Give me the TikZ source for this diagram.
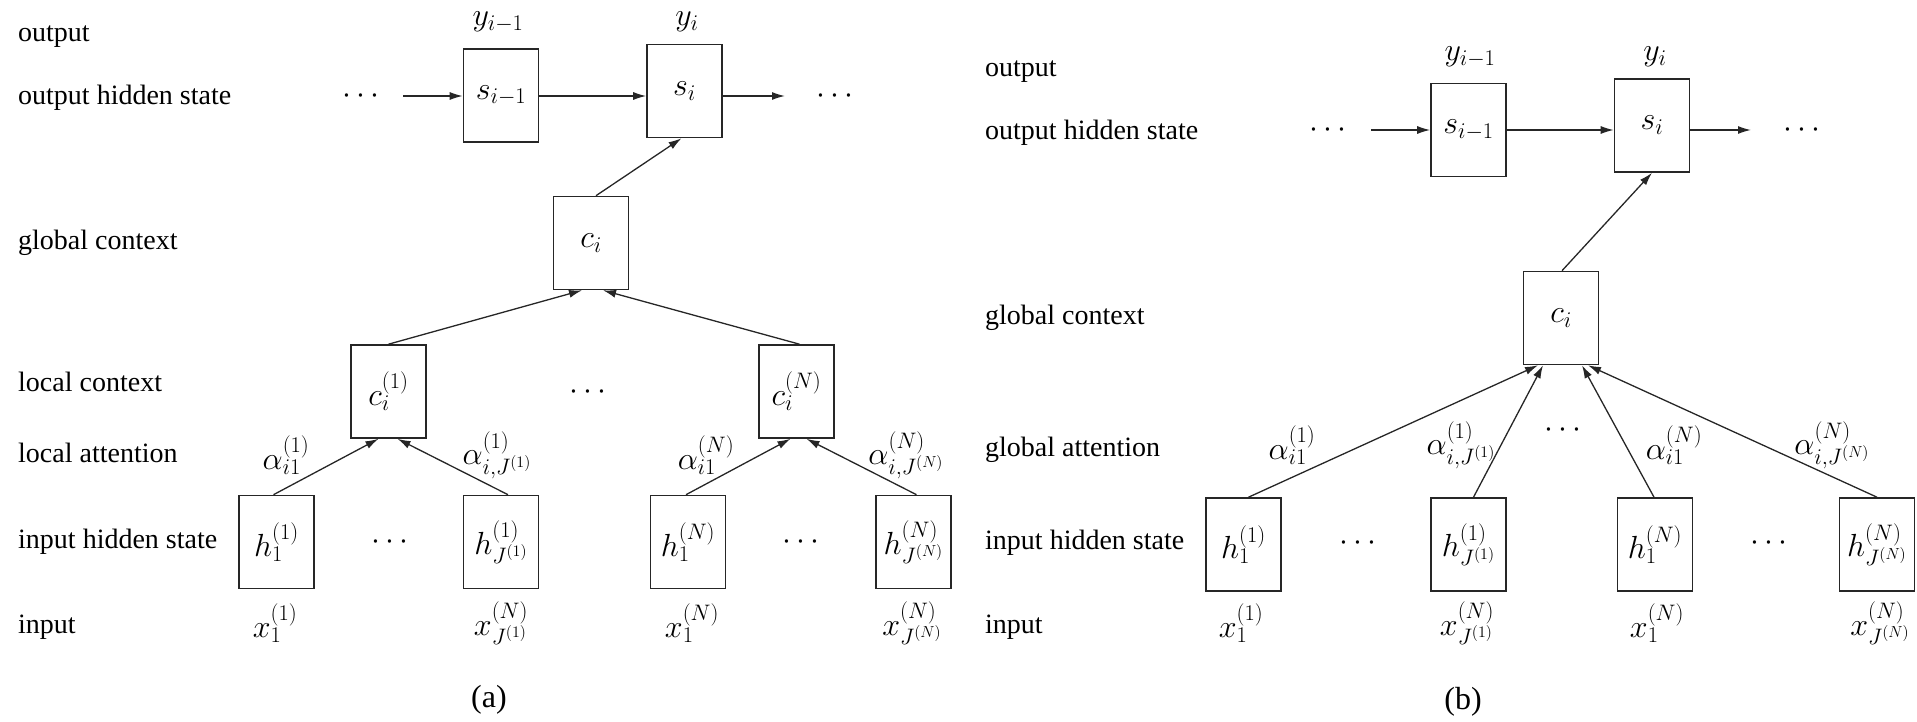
\RequirePackage{fix-cm}
\documentclass[tikz,border=0pt]{standalone}
\usepackage{fontspec}
\setmainfont{Liberation Serif}
\usetikzlibrary{arrows.meta,calc}
\begin{document}
\begin{tikzpicture}[x=1pt,y=-1pt,
  cell/.style={draw=black!85,line width=1.6pt,minimum width=75pt,minimum height=93pt,inner sep=0pt,font=\fontsize{32}{38}\selectfont},
  rowlab/.style={anchor=west,inner sep=0pt,font=\fontsize{28}{34}\selectfont},
  mlab/.style={inner sep=0pt,font=\fontsize{32}{38}\selectfont},
  caplab/.style={inner sep=0pt,font=\fontsize{32}{38}\selectfont},
  arr/.style={-{Latex[length=13pt,width=8pt]},line width=1.3pt,draw=black!85},
]
\useasboundingbox (0,0) rectangle (1917,722);

% ---------------- panel (a) ----------------
\node[rowlab] (aL1) at (18,37) {output};
\node[rowlab] (aL2) at (18,98) {output hidden state};
\node[rowlab] (aL3) at (18,243) {global context};
\node[rowlab] (aL4) at (18,382) {local context};
\node[rowlab] (aL5) at (18,453) {local attention};
\node[rowlab] (aL6) at (18,542) {input hidden state};
\node[rowlab] (aL7) at (18,627) {input};

\node[mlab] (ay1) at (498,22) {$y_{i-1}$};
\node[mlab] (ay2) at (687,22) {$y_i$};

\node[cell] (sA1) at (501,95.5) {$s_{i-1}$};
\node[cell] (sA2) at (684.5,91) {$s_i$};
\node[mlab] (adL) at (361,96) {$\cdots$};
\node[mlab] (adR) at (835,96) {$\cdots$};
\coordinate (aaS) at (403,96);
\coordinate (aaE) at (785,96);
\draw[arr] (aaS) -- (sA1.west |- aaS);
\draw[arr] (sA1.east |- aaS) -- (sA2.west |- aaS);
\draw[arr] (sA2.east |- aaS) -- (aaE);

\node[cell] (cA) at (591,243) {$c_i$};
\draw[arr] ($(cA.north)+(5,0)$) -- ($(sA2.south)+(-3,0)$);

\node[cell] (lcA1) at (388.5,391.5) {$c_i^{(1)}$};
\node[cell] (lcA2) at (796.5,391.5) {$c_i^{(N)}$};
\node[mlab] (adM) at (588,392) {$\cdots$};
\draw[arr] (lcA1.north) -- ($(cA.south)+(-9,0)$);
\draw[arr] ($(lcA2.north)+(3,0)$) -- ($(cA.south)+(12,0)$);

\node[cell] (hA1) at (276.5,542) {$h_1^{(1)}$};
\node[cell] (hA2) at (501,542) {$h_{J^{(1)}}^{(1)}$};
\node[cell] (hA3) at (688,542) {$h_1^{(N)}$};
\node[cell] (hA4) at (913.5,542) {$h_{J^{(N)}}^{(N)}$};
\node[mlab] (adH1) at (390,542) {$\cdots$};
\node[mlab] (adH2) at (801,542) {$\cdots$};

\draw[arr] ($(hA1.north)+(-3,0)$) -- ($(lcA1.south)+(-10,0)$);
\draw[arr] ($(hA2.north)+(7,0)$) -- ($(lcA1.south)+(9,0)$);
\draw[arr] ($(hA3.north)+(-2,0)$) -- ($(lcA2.south)+(-6,0)$);
\draw[arr] ($(hA4.north)+(3,0)$) -- ($(lcA2.south)+(10,0)$);

\node[mlab] (aa1) at (286,455) {$\alpha_{i1}^{(1)}$};
\node[mlab] (aa2) at (497,455) {$\alpha_{i,J^{(1)}}^{(1)}$};
\node[mlab] (aa3) at (706,455) {$\alpha_{i1}^{(N)}$};
\node[mlab] (aa4) at (906,455) {$\alpha_{i,J^{(N)}}^{(N)}$};

\node[mlab] (ax1) at (275,623) {$x_1^{(1)}$};
\node[mlab] (ax2) at (501,623) {$x_{J^{(1)}}^{(N)}$};
\node[mlab] (ax3) at (692,623) {$x_1^{(N)}$};
\node[mlab] (ax4) at (912,623) {$x_{J^{(N)}}^{(N)}$};

\node[caplab] (capA) at (489,700) {(a)};

% ---------------- panel (b) ----------------
\node[rowlab] (bL1) at (985,72) {output};
\node[rowlab] (bL2) at (985,133) {output hidden state};
\node[rowlab] (bL3) at (985,318) {global context};
\node[rowlab] (bL4) at (985,450) {global attention};
\node[rowlab] (bL5) at (985,543) {input hidden state};
\node[rowlab] (bL6) at (985,627) {input};

\node[mlab] (by1) at (1470,57) {$y_{i-1}$};
\node[mlab] (by2) at (1655,57) {$y_i$};

\node[cell] (sB1) at (1468.5,130) {$s_{i-1}$};
\node[cell] (sB2) at (1652,125.5) {$s_i$};
\node[mlab] (bdL) at (1328,130) {$\cdots$};
\node[mlab] (bdR) at (1802,130) {$\cdots$};
\coordinate (baS) at (1371,130);
\coordinate (baE) at (1751,130);
\draw[arr] (baS) -- (sB1.west |- baS);
\draw[arr] (sB1.east |- baS) -- (sB2.west |- baS);
\draw[arr] (sB2.east |- baS) -- (baE);

\node[cell] (cB) at (1561,318) {$c_i$};
\draw[arr] ($(cB.north)+(1,0)$) -- (sB2.south);

\node[cell] (hB1) at (1243.5,544.5) {$h_1^{(1)}$};
\node[cell] (hB2) at (1468.5,544.5) {$h_{J^{(1)}}^{(1)}$};
\node[cell] (hB3) at (1655,544.5) {$h_1^{(N)}$};
\node[cell] (hB4) at (1877,544.5) {$h_{J^{(N)}}^{(N)}$};
\node[mlab] (bdH1) at (1358,543) {$\cdots$};
\node[mlab] (bdH2) at (1769,543) {$\cdots$};

\draw[arr] ($(hB1.north)+(5,0)$) -- ($(cB.south)+(-23,0)$);
\draw[arr] ($(hB2.north)+(5,0)$) -- ($(cB.south)+(-18,0)$);
\draw[arr] ($(hB3.north)+(-1,0)$) -- ($(cB.south)+(21,0)$);
\draw[arr] (hB4.north) -- ($(cB.south)+(27,0)$);

\node[mlab] (ba1) at (1292,445) {$\alpha_{i1}^{(1)}$};
\node[mlab] (ba2) at (1461,445) {$\alpha_{i,J^{(1)}}^{(1)}$};
\node[mlab] (bdM) at (1563,430) {$\cdots$};
\node[mlab] (ba3) at (1674,445) {$\alpha_{i1}^{(N)}$};
\node[mlab] (ba4) at (1832,445) {$\alpha_{i,J^{(N)}}^{(N)}$};

\node[mlab] (bx1) at (1241,623) {$x_1^{(1)}$};
\node[mlab] (bx2) at (1467,623) {$x_{J^{(1)}}^{(N)}$};
\node[mlab] (bx3) at (1657,623) {$x_1^{(N)}$};
\node[mlab] (bx4) at (1880,623) {$x_{J^{(N)}}^{(N)}$};

\node[caplab] (capB) at (1463,702) {(b)};
\end{tikzpicture}
\end{document}
